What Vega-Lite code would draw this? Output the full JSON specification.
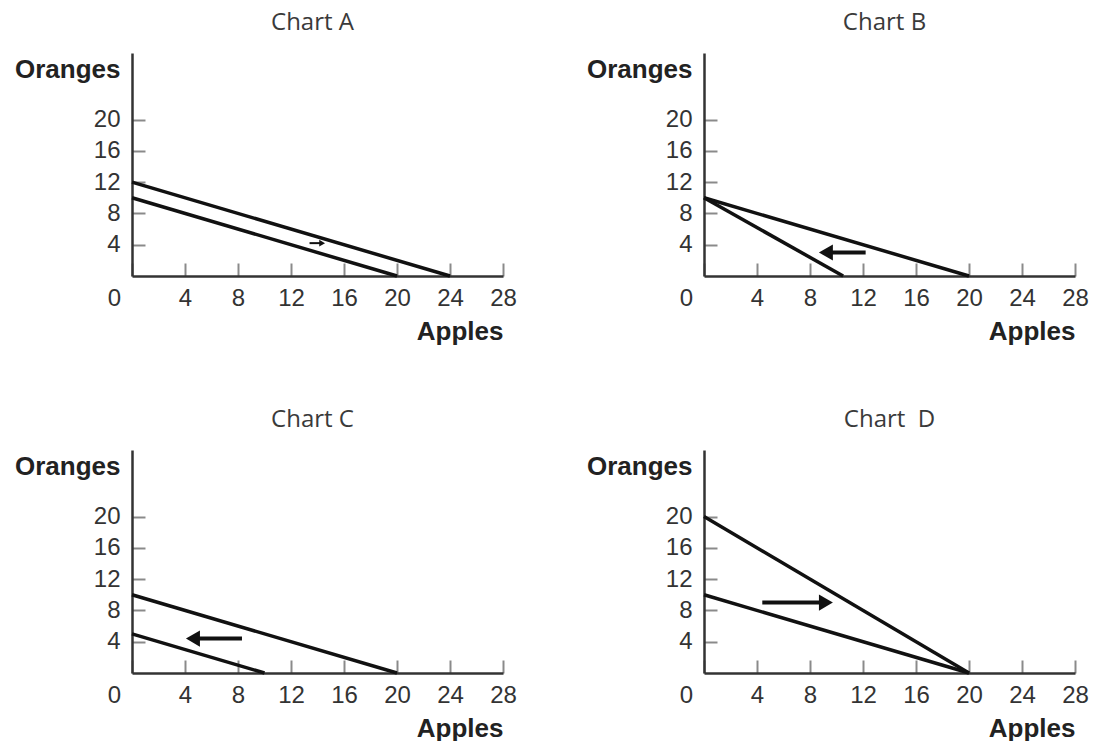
{
  "$schema": "https://vega.github.io/schema/vega-lite/v6.json",
  "background": "white",
  "padding": {"left": 14, "top": 11, "right": 5, "bottom": 0},
  "bounds": "flush",
  "columns": 2,
  "spacing": {"row": 174, "column": 201},
  "datasets": {
    "lines": [
      {"chart": "A", "series": "s1", "apples": 0, "oranges": 12},
      {"chart": "A", "series": "s1", "apples": 24, "oranges": 0},
      {"chart": "A", "series": "s2", "apples": 0, "oranges": 10},
      {"chart": "A", "series": "s2", "apples": 20, "oranges": 0},
      {"chart": "B", "series": "s1", "apples": 0, "oranges": 10},
      {"chart": "B", "series": "s1", "apples": 20, "oranges": 0},
      {"chart": "B", "series": "s2", "apples": 0, "oranges": 10},
      {"chart": "B", "series": "s2", "apples": 10.5, "oranges": 0},
      {"chart": "C", "series": "s1", "apples": 0, "oranges": 10},
      {"chart": "C", "series": "s1", "apples": 20, "oranges": 0},
      {"chart": "C", "series": "s2", "apples": 0, "oranges": 5},
      {"chart": "C", "series": "s2", "apples": 10, "oranges": 0},
      {"chart": "D", "series": "s1", "apples": 0, "oranges": 20},
      {"chart": "D", "series": "s1", "apples": 20, "oranges": 0},
      {"chart": "D", "series": "s2", "apples": 0, "oranges": 10},
      {"chart": "D", "series": "s2", "apples": 20, "oranges": 0}
    ],
    "arrows": [
      {"chart": "A", "tail": 13.4, "head": 14.35, "oranges": 4.2, "dir": "right"},
      {"chart": "B", "tail": 12.2, "head": 9.2, "oranges": 3.0, "dir": "left"},
      {"chart": "C", "tail": 8.3, "head": 4.6, "oranges": 4.4, "dir": "left"},
      {"chart": "D", "tail": 4.4, "head": 9.2, "oranges": 9.0, "dir": "right"}
    ]
  },
  "config": {
    "view": {"stroke": null},
    "axis": {
      "grid": false,
      "domainColor": "#333333",
      "domainWidth": 2.5,
      "tickColor": "#8a8a8a",
      "tickWidth": 2,
      "tickSize": -13,
      "labelFont": "Liberation Sans",
      "labelFontSize": 24,
      "labelColor": "#333333",
      "labelFlush": false,
      "labelOverlap": false,
      "labelBound": false,
      "titleFont": "Liberation Sans",
      "titleFontSize": 26,
      "titleFontWeight": "bold",
      "titleColor": "#222222",
      "titleAngle": 0,
      "titleBaseline": "alphabetic"
    },
    "axisX": {"labelPadding": 23, "titleAlign": "right", "titleX": 371, "titleY": 63},
    "axisY": {"labelPadding": 25, "titleAlign": "right", "titleX": -12, "titleY": 24},
    "title": {"font": "Open Sans", "fontSize": 24, "fontWeight": "normal", "color": "#3a3a3a", "anchor": "middle", "frame": "group", "baseline": "alphabetic", "offset": 18, "dx": -5}
  },
  "concat": [
    {
      "title": {"text": "Chart A"},
      "width": 371, "height": 223,
      "layer": [
        {"data": {"name": "lines"}, "transform": [{"filter": "datum.chart === 'A'"}],
         "mark": {"type": "line", "color": "#111111", "strokeWidth": 3.5},
         "encoding": {
           "x": {"field": "apples", "type": "quantitative", "scale": {"domain": [0, 28], "nice": false}, "title": "Apples",
                 "axis": {"values": [0, 4, 8, 12, 16, 20, 24, 28], "labelOffset": {"condition": {"test": "datum.value === 0", "value": -18}, "value": 0}}},
           "y": {"field": "oranges", "type": "quantitative", "scale": {"domain": [0, 28.5], "nice": false}, "title": "Oranges",
                 "axis": {"values": [4, 8, 12, 16, 20]}},
           "detail": {"field": "series"}, "order": {"field": "apples"}}},
        {"data": {"name": "arrows"}, "transform": [{"filter": "datum.chart === 'A'"}],
         "mark": {"type": "rule", "color": "#111111", "strokeWidth": 2},
         "encoding": {"x": {"field": "tail", "type": "quantitative", "title": "Apples"}, "x2": {"field": "head"}, "y": {"field": "oranges", "type": "quantitative", "title": "Oranges"}}},
        {"data": {"name": "arrows"}, "transform": [{"filter": "datum.chart === 'A'"}],
         "mark": {"type": "point", "filled": true, "color": "#111111", "opacity": 1, "size": 45},
         "encoding": {"x": {"field": "head", "type": "quantitative", "title": "Apples"}, "y": {"field": "oranges", "type": "quantitative", "title": "Oranges"},
           "shape": {"field": "dir", "type": "nominal", "scale": {"domain": ["left", "right"], "range": ["triangle-left", "triangle-right"]}, "legend": null}}}
      ]
    },
    {
      "title": {"text": "Chart B"},
      "width": 371, "height": 223,
      "layer": [
        {"data": {"name": "lines"}, "transform": [{"filter": "datum.chart === 'B'"}],
         "mark": {"type": "line", "color": "#111111", "strokeWidth": 3.5},
         "encoding": {
           "x": {"field": "apples", "type": "quantitative", "scale": {"domain": [0, 28], "nice": false}, "title": "Apples",
                 "axis": {"values": [0, 4, 8, 12, 16, 20, 24, 28], "labelOffset": {"condition": {"test": "datum.value === 0", "value": -18}, "value": 0}}},
           "y": {"field": "oranges", "type": "quantitative", "scale": {"domain": [0, 28.5], "nice": false}, "title": "Oranges",
                 "axis": {"values": [4, 8, 12, 16, 20]}},
           "detail": {"field": "series"}, "order": {"field": "apples"}}},
        {"data": {"name": "arrows"}, "transform": [{"filter": "datum.chart === 'B'"}],
         "mark": {"type": "rule", "color": "#111111", "strokeWidth": 4},
         "encoding": {"x": {"field": "tail", "type": "quantitative", "title": "Apples"}, "x2": {"field": "head"}, "y": {"field": "oranges", "type": "quantitative", "title": "Oranges"}}},
        {"data": {"name": "arrows"}, "transform": [{"filter": "datum.chart === 'B'"}],
         "mark": {"type": "point", "filled": true, "color": "#111111", "opacity": 1, "size": 260},
         "encoding": {"x": {"field": "head", "type": "quantitative", "title": "Apples"}, "y": {"field": "oranges", "type": "quantitative", "title": "Oranges"},
           "shape": {"field": "dir", "type": "nominal", "scale": {"domain": ["left", "right"], "range": ["triangle-left", "triangle-right"]}, "legend": null}}}
      ]
    },
    {
      "title": {"text": "Chart C"},
      "width": 371, "height": 223,
      "layer": [
        {"data": {"name": "lines"}, "transform": [{"filter": "datum.chart === 'C'"}],
         "mark": {"type": "line", "color": "#111111", "strokeWidth": 3.5},
         "encoding": {
           "x": {"field": "apples", "type": "quantitative", "scale": {"domain": [0, 28], "nice": false}, "title": "Apples",
                 "axis": {"values": [0, 4, 8, 12, 16, 20, 24, 28], "labelOffset": {"condition": {"test": "datum.value === 0", "value": -18}, "value": 0}}},
           "y": {"field": "oranges", "type": "quantitative", "scale": {"domain": [0, 28.5], "nice": false}, "title": "Oranges",
                 "axis": {"values": [4, 8, 12, 16, 20]}},
           "detail": {"field": "series"}, "order": {"field": "apples"}}},
        {"data": {"name": "arrows"}, "transform": [{"filter": "datum.chart === 'C'"}],
         "mark": {"type": "rule", "color": "#111111", "strokeWidth": 4},
         "encoding": {"x": {"field": "tail", "type": "quantitative", "title": "Apples"}, "x2": {"field": "head"}, "y": {"field": "oranges", "type": "quantitative", "title": "Oranges"}}},
        {"data": {"name": "arrows"}, "transform": [{"filter": "datum.chart === 'C'"}],
         "mark": {"type": "point", "filled": true, "color": "#111111", "opacity": 1, "size": 260},
         "encoding": {"x": {"field": "head", "type": "quantitative", "title": "Apples"}, "y": {"field": "oranges", "type": "quantitative", "title": "Oranges"},
           "shape": {"field": "dir", "type": "nominal", "scale": {"domain": ["left", "right"], "range": ["triangle-left", "triangle-right"]}, "legend": null}}}
      ]
    },
    {
      "title": {"text": "Chart\u00a0 D", "dx": 0},
      "width": 371, "height": 223,
      "layer": [
        {"data": {"name": "lines"}, "transform": [{"filter": "datum.chart === 'D'"}],
         "mark": {"type": "line", "color": "#111111", "strokeWidth": 3.5},
         "encoding": {
           "x": {"field": "apples", "type": "quantitative", "scale": {"domain": [0, 28], "nice": false}, "title": "Apples",
                 "axis": {"values": [0, 4, 8, 12, 16, 20, 24, 28], "labelOffset": {"condition": {"test": "datum.value === 0", "value": -18}, "value": 0}}},
           "y": {"field": "oranges", "type": "quantitative", "scale": {"domain": [0, 28.5], "nice": false}, "title": "Oranges",
                 "axis": {"values": [4, 8, 12, 16, 20]}},
           "detail": {"field": "series"}, "order": {"field": "apples"}}},
        {"data": {"name": "arrows"}, "transform": [{"filter": "datum.chart === 'D'"}],
         "mark": {"type": "rule", "color": "#111111", "strokeWidth": 4},
         "encoding": {"x": {"field": "tail", "type": "quantitative", "title": "Apples"}, "x2": {"field": "head"}, "y": {"field": "oranges", "type": "quantitative", "title": "Oranges"}}},
        {"data": {"name": "arrows"}, "transform": [{"filter": "datum.chart === 'D'"}],
         "mark": {"type": "point", "filled": true, "color": "#111111", "opacity": 1, "size": 260},
         "encoding": {"x": {"field": "head", "type": "quantitative", "title": "Apples"}, "y": {"field": "oranges", "type": "quantitative", "title": "Oranges"},
           "shape": {"field": "dir", "type": "nominal", "scale": {"domain": ["left", "right"], "range": ["triangle-left", "triangle-right"]}, "legend": null}}}
      ]
    }
  ]
}
